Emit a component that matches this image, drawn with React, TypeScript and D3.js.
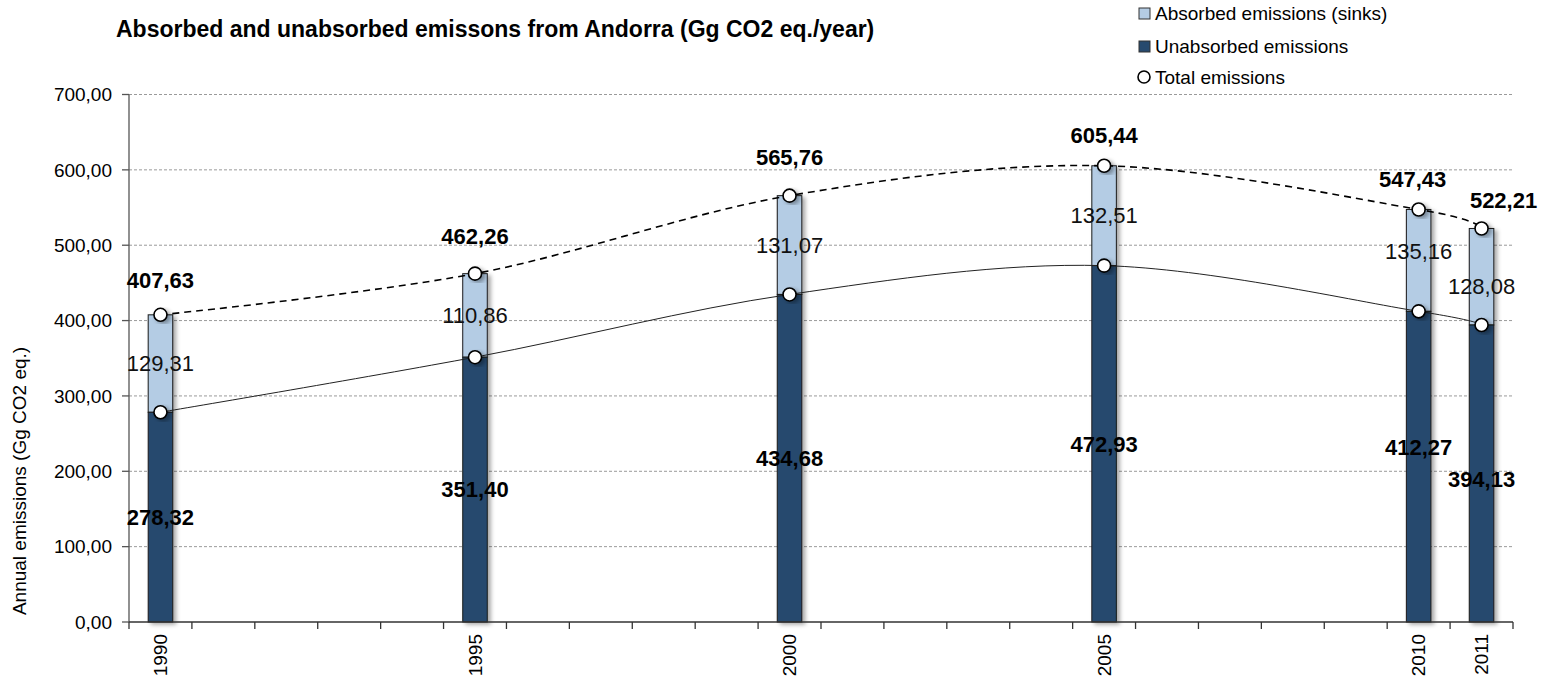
import * as d3 from "d3";
import { useMemo } from "react";

// chart data
const years = [1990, 1995, 2000, 2005, 2010, 2011];
const unabsorbed = [278.32, 351.4, 434.68, 472.93, 412.27, 394.13];
const absorbed = [129.31, 110.86, 131.07, 132.51, 135.16, 128.08];
const total = [407.63, 462.26, 565.76, 605.44, 547.43, 522.21];
const yTicks = [0, 100, 200, 300, 400, 500, 600, 700];
const firstYear = 1990;
const lastYear = 2011;

const W = 1548;
const H = 678;
const LEFT = 129;
const RIGHT = 1513;
const TOP = 94.5;
const BOTTOM = 622;

const LIGHT = "#B4CCE4";
const DARK = "#274A6E";
const FONT = "Arial, 'Liberation Sans', sans-serif";

const locale = d3.formatLocale({ decimal: ",", thousands: ".", grouping: [3], currency: ["", ""] });
const fmt = locale.format(".2f");

// manual label nudges (the source chart had hand placed labels)
const totalDy = [-35, -37, -38, -30, -30, -28];
const totalDx = [0, 0, 0, 0, -6, 22];
const absDy = [0, 0, 0, 0, -9, 10];
const unDy = [0, 0, 0, 0, -19, 6];

export default function App() {
  const xScale = useMemo(
    () =>
      d3
        .scaleBand<number>()
        .domain(d3.range(firstYear, lastYear + 1))
        .range([LEFT, RIGHT])
        .padding(0),
    []
  );
  const yScale = useMemo(() => d3.scaleLinear().domain([0, 700]).range([BOTTOM, TOP]), []);

  const bw = xScale.bandwidth();
  const barW = bw * 0.39;
  const cx = (yr: number) => (xScale(yr) || 0) + bw / 2;

  const totalPts = years.map((yr, i) => [cx(yr), yScale(total[i])] as [number, number]);
  const unPts = years.map((yr, i) => [cx(yr), yScale(unabsorbed[i])] as [number, number]);
  const line = d3.line().curve(d3.curveCardinal.tension(0));

  const boundaries = d3.range(firstYear, lastYear + 2);

  return (
    <svg width={W} height={H} style={{ position: "absolute", left: 0, top: 0 }} fontFamily={FONT}>
      <defs>
        <filter id="shadow" x="-30%" y="-10%" width="180%" height="130%">
          <feDropShadow dx="3" dy="2" stdDeviation="2" floodColor="#000" floodOpacity="0.35" />
        </filter>
      </defs>

      {/* title */}
      <text x={116} y={37} fontSize={23} fontWeight="bold" fill="#000">
        Absorbed and unabsorbed emissons from Andorra (Gg CO2 eq./year)
      </text>

      {/* gridlines */}
      {yTicks.slice(1).map((t) => (
        <line key={t} x1={LEFT} x2={RIGHT} y1={yScale(t)} y2={yScale(t)} stroke="#9a9a9a" strokeWidth={1} strokeDasharray="3,2" />
      ))}

      {/* y axis */}
      <line x1={LEFT} x2={LEFT} y1={TOP} y2={BOTTOM} stroke="#555" strokeWidth={1.3} />
      {yTicks.map((t) => (
        <g key={t}>
          <line x1={LEFT - 7} x2={LEFT} y1={yScale(t)} y2={yScale(t)} stroke="#555" strokeWidth={1.3} />
          <text x={112} y={yScale(t)} dy="0.35em" textAnchor="end" fontSize={19} fill="#000">
            {fmt(t)}
          </text>
        </g>
      ))}
      <text
        transform={`translate(26,481) rotate(-90)`}
        textAnchor="middle"
        fontSize={19}
        fill="#000"
      >
        Annual emissions (Gg CO2 eq.)
      </text>

      {/* bars */}
      {years.map((yr, i) => {
        const x0 = cx(yr) - barW / 2;
        return (
          <g key={yr} filter="url(#shadow)">
            <rect x={x0} y={yScale(total[i])} width={barW} height={yScale(unabsorbed[i]) - yScale(total[i])} fill={LIGHT} stroke="#1a1a1a" strokeWidth={1} />
            <rect x={x0} y={yScale(unabsorbed[i])} width={barW} height={BOTTOM - yScale(unabsorbed[i])} fill={DARK} stroke="#1a1a1a" strokeWidth={1} />
          </g>
        );
      })}

      {/* x axis */}
      <line x1={LEFT} x2={RIGHT} y1={BOTTOM} y2={BOTTOM} stroke="#333" strokeWidth={1.3} />
      {boundaries.map((b) => {
        const x = b <= lastYear ? xScale(b) || 0 : RIGHT;
        return <line key={b} x1={x} x2={x} y1={BOTTOM} y2={BOTTOM + 7} stroke="#333" strokeWidth={1.3} />;
      })}
      {years.map((yr) => (
        <text key={yr} transform={`translate(${cx(yr)},634) rotate(-90)`} dy="0.35em" textAnchor="end" fontSize={19} fill="#000">
          {yr}
        </text>
      ))}

      {/* lines */}
      <path d={line(totalPts) || ""} fill="none" stroke="#000" strokeWidth={1.6} strokeDasharray="7,5" />
      <path d={line(unPts) || ""} fill="none" stroke="#222" strokeWidth={1} />

      {/* markers */}
      {[...totalPts, ...unPts].map((p, i) => (
        <circle key={i} cx={p[0]} cy={p[1]} r={6.5} fill="#fff" stroke="#000" strokeWidth={1.6} filter="url(#shadow)" />
      ))}

      {/* labels */}
      {years.map((yr, i) => (
        <g key={yr}>
          <text x={cx(yr) + totalDx[i]} y={yScale(total[i]) + totalDy[i]} dy="0.35em" textAnchor="middle" fontSize={22} fontWeight="bold" fill="#000">
            {fmt(total[i])}
          </text>
          <text x={cx(yr)} y={(yScale(total[i]) + yScale(unabsorbed[i])) / 2 + absDy[i]} dy="0.35em" textAnchor="middle" fontSize={22} fill="#111">
            {fmt(absorbed[i])}
          </text>
          <text x={cx(yr)} y={(BOTTOM + yScale(unabsorbed[i])) / 2 + unDy[i]} dy="0.35em" textAnchor="middle" fontSize={22} fontWeight="bold" fill="#000">
            {fmt(unabsorbed[i])}
          </text>
        </g>
      ))}

      {/* legend */}
      <rect x={1139} y={8} width={11} height={11} fill={LIGHT} stroke="#333" strokeWidth={1} />
      <text x={1155} y={20} fontSize={19} fill="#000">Absorbed emissions (sinks)</text>
      <rect x={1139} y={41} width={11} height={11} fill={DARK} stroke="#333" strokeWidth={1} />
      <text x={1155} y={53} fontSize={19} fill="#000">Unabsorbed emissions</text>
      <circle cx={1144} cy={77} r={6} fill="#fff" stroke="#000" strokeWidth={1.6} />
      <text x={1155} y={84} fontSize={19} fill="#000">Total emissions</text>
    </svg>
  );
}
